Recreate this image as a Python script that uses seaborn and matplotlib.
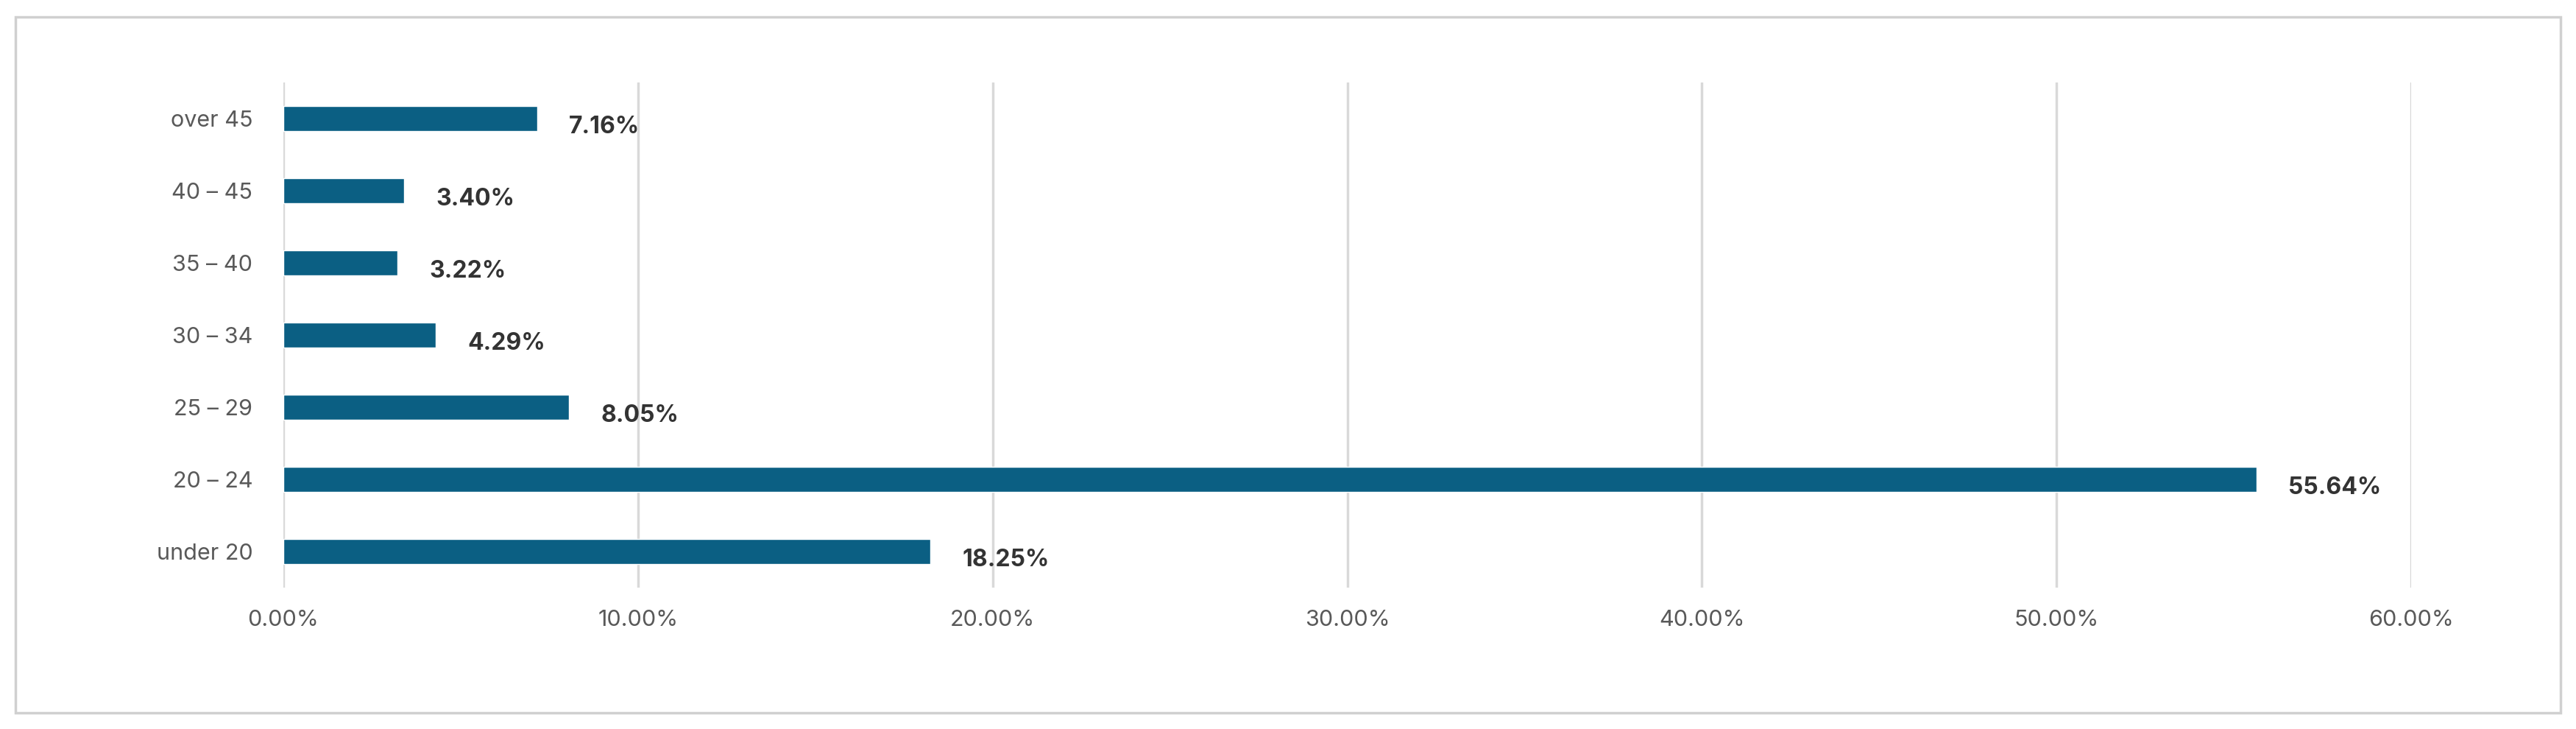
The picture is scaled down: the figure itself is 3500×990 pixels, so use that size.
import matplotlib
matplotlib.use("Agg")
import matplotlib.pyplot as plt
import seaborn as sns
import pandas as pd
from matplotlib.patches import Rectangle

# Data (top to bottom as shown)
age_groups = ["over 45", "40 – 45", "35 – 40", "30 – 34", "25 – 29", "20 – 24", "under 20"]
shares = [7.16, 3.40, 3.22, 4.29, 8.05, 55.64, 18.25]
x_ticks = [0, 10, 20, 30, 40, 50, 60]

df = pd.DataFrame({"age": age_groups, "share": shares})

sns.set_style("white")
plt.rcParams["font.family"] = ["Inter", "DejaVu Sans"]

fig = plt.figure(figsize=(35, 9.9), dpi=100)
ax = fig.add_axes([0.110, 0.194, 0.826, 0.693])

sns.barplot(data=df, x="share", y="age", order=age_groups, color="#0B5F83",
            width=0.35, saturation=1, ax=ax, zorder=3)

ax.set_xlim(0, 60)
ax.set_xticks(x_ticks)
ax.set_xticklabels([f"{t:.2f}%" for t in x_ticks], fontsize=22, color="#595959")
ax.tick_params(axis="y", labelsize=22, labelcolor="#595959", length=0, pad=30)
ax.tick_params(axis="x", length=0, pad=22)
ax.grid(axis="x", color="#d9d9d9", linewidth=2.5, zorder=0)
ax.set_xlabel("")
ax.set_ylabel("")
for s in ax.spines.values():
    s.set_visible(False)

for i, v in enumerate(shares):
    ax.text(v + 0.9, i + 0.12, f"{v:.2f}%", va="center", ha="left",
            fontsize=23, fontweight="bold", color="#333333")

# outer frame
fig.patches.append(Rectangle((0.006, 0.022), 0.988, 0.955, transform=fig.transFigure,
                             fill=False, edgecolor="#d0d0d0", linewidth=2.5))

fig.savefig("out.png", dpi=100, facecolor="white")
